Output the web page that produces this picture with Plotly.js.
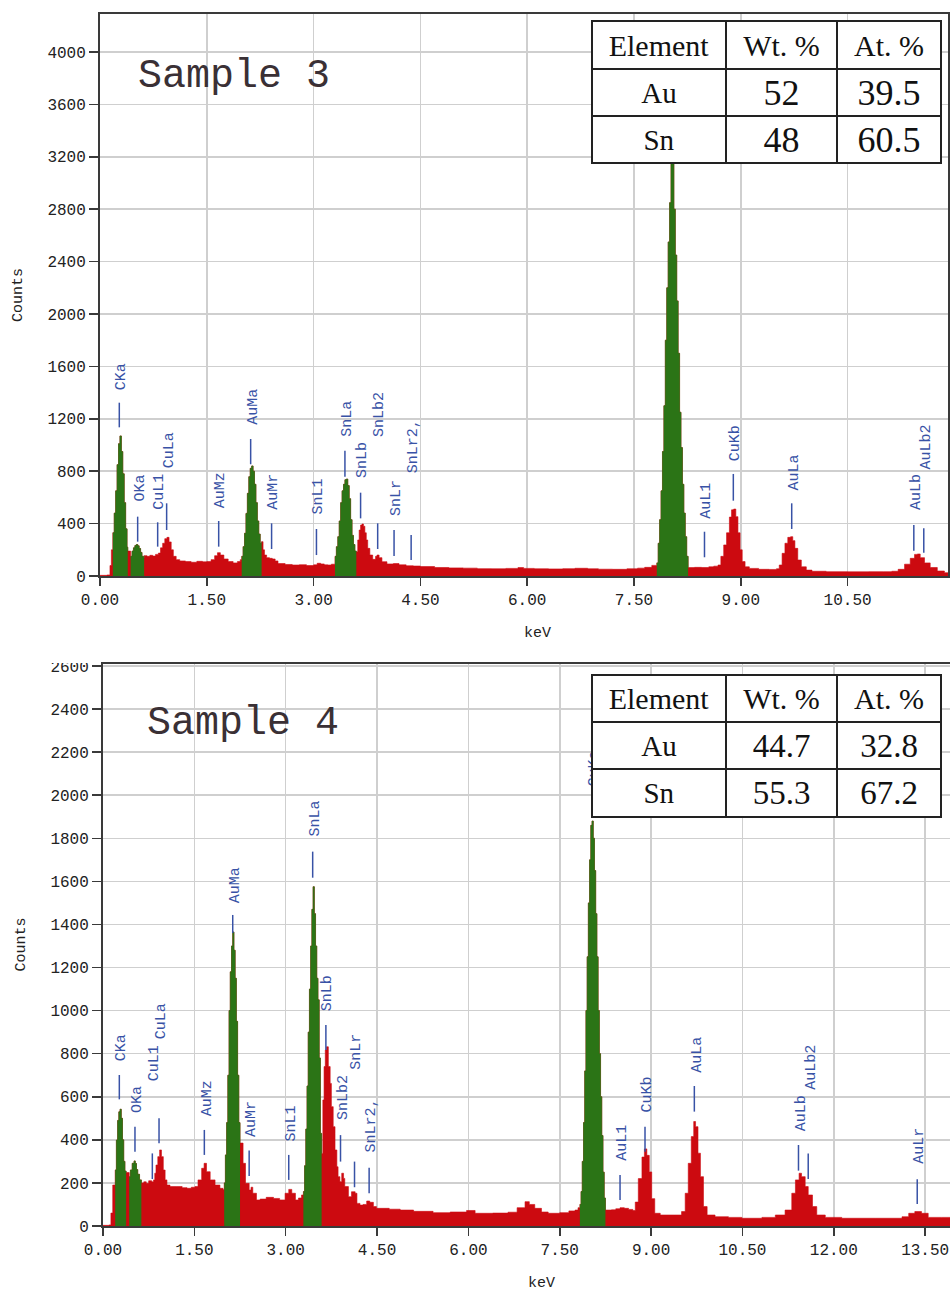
<!DOCTYPE html>
<html>
<head>
<meta charset="utf-8">
<script src="https://cdn.plot.ly/plotly-3.0.1.min.js"></script>
<style>
html,body{margin:0;padding:0;background:#fff;}
#chart{width:950px;height:1293px;}
</style>
</head>
<body>
<div id="chart"></div>
<script>
// ---------- DATA ----------
// Sample 3 spectrum: [energy keV, counts]
var sample3Spectrum = [
[0.00,5],[0.10,8],[0.14,80],[0.16,200],
[0.18,330],[0.20,480],[0.22,650],[0.24,850],[0.26,1010],[0.28,1069],[0.30,950],[0.32,780],[0.34,560],[0.36,360],[0.38,220],
[0.39,190],
[0.43,150],[0.45,190],[0.47,215],[0.49,232],[0.51,240],[0.53,230],[0.55,210],[0.57,180],[0.59,150],[0.61,140],
[0.62,155],[0.66,150],[0.70,158],[0.74,152],[0.78,165],[0.82,175],[0.85,215],[0.88,250],[0.91,285],[0.94,295],[0.97,260],[1.00,200],[1.03,150],[1.07,125],[1.12,115],[1.20,110],[1.28,105],[1.36,112],[1.44,108],[1.50,110],[1.56,125],[1.61,155],[1.65,178],[1.69,160],[1.74,130],[1.80,110],[1.87,100],[1.93,110],[1.97,125],
[1.99,150],[2.01,224],[2.03,326],[2.05,478],[2.07,631],[2.09,758],[2.11,822],[2.13,840],[2.15,800],[2.17,700],[2.19,560],[2.21,420],[2.23,320],[2.25,250],
[2.27,262],[2.29,200],[2.31,160],[2.34,140],[2.38,135],[2.42,130],[2.46,115],[2.50,95],[2.60,88],[2.70,84],[2.80,86],[2.90,80],[3.00,85],[3.05,97],[3.10,92],[3.15,85],[3.20,84],[3.25,90],
[3.30,150],[3.32,224],[3.34,300],[3.36,420],[3.38,560],[3.40,650],[3.42,700],[3.44,735],[3.46,740],[3.48,690],[3.50,590],[3.52,430],[3.54,310],[3.56,240],[3.58,190],
[3.60,186],[3.62,275],[3.64,351],[3.66,389],[3.68,397],[3.70,380],[3.72,330],[3.74,275],[3.76,211],[3.79,160],[3.83,127],[3.87,150],[3.89,160],[3.92,140],[3.96,109],[4.03,92],[4.12,95],[4.20,85],[4.30,78],[4.40,76],[4.50,72],
[4.70,65],[4.90,62],[5.10,60],[5.30,56],[5.50,55],[5.70,58],[5.87,64],[5.95,58],[6.10,55],[6.30,54],[6.50,56],[6.67,59],[6.85,55],[7.00,52],[7.20,51],[7.40,55],[7.55,60],[7.65,66],[7.75,81],
[7.82,100],[7.84,250],[7.86,430],[7.88,650],[7.90,950],[7.92,1300],[7.94,1800],[7.96,2200],[7.98,2550],[8.00,2850],[8.02,3250],[8.04,3150],[8.06,2800],[8.08,2450],[8.10,2100],[8.12,1700],[8.14,1250],[8.16,980],[8.18,700],[8.20,480],[8.22,300],[8.24,150],
[8.26,64],[8.35,66],[8.45,65],[8.55,70],[8.62,75],[8.68,84],[8.72,150],[8.76,237],[8.80,330],[8.84,450],[8.87,505],[8.90,511],[8.93,453],[8.96,330],[8.99,200],[9.02,110],[9.06,70],[9.12,58],[9.25,51],[9.40,50],[9.50,55],[9.54,84],[9.58,173],[9.62,250],[9.66,295],[9.70,300],[9.73,270],[9.76,211],[9.80,122],[9.85,70],[9.92,45],[10.00,36],[10.20,33],[10.50,32],[10.80,33],[11.00,33],[11.12,36],[11.21,51],[11.30,90],[11.38,135],[11.44,165],[11.48,168],[11.52,140],[11.58,100],[11.66,65],[11.76,38],[11.86,25],[11.92,20]
];
// energy windows of the fitted (green) peaks, Sample 3
var sample3Fitted = [[0.18,0.39],[0.43,0.62],[1.99,2.27],[3.30,3.60],[7.82,8.26]];

// Sample 4 spectrum: [energy keV, counts]
var sample4Spectrum = [
[0.00,3],[0.10,5],[0.13,60],[0.16,190],
[0.20,260],[0.22,399],[0.24,490],[0.26,530],[0.28,542],[0.30,500],[0.32,400],[0.34,300],[0.36,255],
[0.38,248],
[0.43,229],[0.45,260],[0.48,291],[0.51,302],[0.53,290],[0.55,262],[0.57,240],[0.60,214],
[0.63,200],[0.67,205],[0.71,198],[0.75,210],[0.80,205],[0.83,214],[0.85,245],[0.87,283],[0.90,322],[0.93,353],[0.96,322],[0.99,260],[1.02,214],[1.05,190],[1.10,183],[1.20,183],[1.30,178],[1.38,175],[1.45,180],[1.51,183],[1.56,214],[1.62,268],[1.66,291],[1.70,252],[1.76,214],[1.84,190],[1.92,175],[1.97,170],
[1.99,200],[2.01,330],[2.03,480],[2.05,700],[2.07,1000],[2.09,1180],[2.11,1300],[2.13,1365],[2.15,1280],[2.17,1150],[2.19,950],[2.21,700],[2.23,480],
[2.25,385],[2.30,291],[2.34,198],[2.40,167],[2.43,180],[2.46,152],[2.52,121],[2.58,125],[2.68,133],[2.80,128],[2.90,121],[2.99,152],[3.05,170],[3.10,152],[3.16,121],[3.21,130],[3.26,144],
[3.29,160],[3.31,280],[3.33,450],[3.35,650],[3.37,900],[3.39,1100],[3.41,1300],[3.43,1470],[3.45,1575],[3.47,1450],[3.49,1300],[3.51,1150],[3.53,1050],[3.55,780],[3.57,430],
[3.59,337],[3.61,585],[3.63,740],[3.65,817],[3.67,832],[3.70,740],[3.73,662],[3.75,554],[3.78,461],[3.81,353],[3.84,275],[3.86,229],[3.89,206],[3.92,245],[3.95,221],[3.97,183],[4.03,136],[4.08,159],[4.14,152],[4.17,105],[4.22,97],[4.27,100],[4.33,116],[4.38,110],[4.44,90],[4.49,82],
[4.70,78],[4.88,74],[5.10,68],[5.42,62],[5.70,65],[5.97,72],[6.11,59],[6.40,60],[6.65,64],[6.80,85],[6.93,113],[7.00,100],[7.09,82],[7.20,65],[7.31,59],[7.50,62],[7.65,70],[7.75,74],[7.80,85],
[7.83,100],[7.85,160],[7.87,300],[7.89,480],[7.91,720],[7.93,1000],[7.95,1250],[7.97,1500],[7.99,1700],[8.01,1860],[8.03,1880],[8.05,1800],[8.07,1650],[8.09,1450],[8.11,1250],[8.13,1000],[8.15,800],[8.17,600],[8.19,420],[8.21,250],[8.23,130],
[8.25,74],[8.35,75],[8.42,80],[8.49,85],[8.56,82],[8.63,77],[8.70,72],[8.74,111],[8.79,220],[8.85,320],[8.89,358],[8.93,328],[8.97,251],[9.01,127],[9.06,59],[9.15,51],[9.39,51],[9.50,67],[9.56,152],[9.61,291],[9.66,415],[9.70,485],[9.73,461],[9.77,338],[9.81,229],[9.86,90],[9.92,51],[10.05,43],[10.27,40],[10.49,36],[10.82,40],[11.04,51],[11.20,74],[11.31,152],[11.37,214],[11.43,245],[11.47,229],[11.53,183],[11.58,144],[11.65,90],[11.72,51],[11.86,40],[12.13,36],[12.68,36],[13.12,43],[13.23,59],[13.33,67],[13.44,59],[13.55,40],[13.77,40],[13.91,40]
];
var sample4Fitted = [[0.20,0.38],[0.43,0.63],[1.99,2.25],[3.29,3.59],[7.83,8.25]];

// Peak identification labels
var lines3Name   = ['CKa','OKa','CuL1','CuLa','AuMz','AuMa','AuMr','SnL1','SnLa','SnLb','SnLb2','SnLr','SnLr2,','CuKa','AuL1','CuKb','AuLa','AuLb','AuLb2'];
var lines3Energy = [0.271,0.529,0.81,0.936,1.667,2.116,2.41,3.04,3.44,3.66,3.90,4.13,4.37,8.03,8.49,8.895,9.715,11.43,11.57];
var lines3Low    = [1135,262,224,351,224,853,206,160,758,440,206,153,122,3300,143,575,359,193,178];
var lines3High   = [1323,453,410,555,420,1046,402,359,957,636,402,351,313,3500,338,779,555,389,364];
var lines3Text   = [1405,550,491,809,504,1140,491,453,1051,733,1043,440,766,3580,422,860,639,491,796];

var lines4Name   = ['CKa','OKa','CuL1','CuLa','AuMz','AuMa','AuMr','SnL1','SnLa','SnLb','SnLb2','SnLr','SnLr2,','CuKa','AuL1','CuKb','AuLa','AuLb','AuLb2','AuLr'];
var lines4Energy = [0.268,0.525,0.81,0.92,1.664,2.13,2.40,3.05,3.443,3.66,3.90,4.13,4.37,8.03,8.49,8.90,9.71,11.42,11.58,13.37];
var lines4Low    = [588,345,218,384,330,1360,232,214,1617,817,299,180,152,1960,121,345,531,257,218,102];
var lines4High   = [701,461,337,500,446,1444,350,330,1738,933,422,299,271,2000,237,461,650,376,337,217];
var lines4Text   = [757,515,662,856,500,1490,402,384,1800,989,480,716,330,2029,291,515,701,430,624,279];

// Composition tables
var tableHeader = ['Element','Wt. %','At. %'];
var tableElements = ['Au','Sn'];
var sample3Wt = ['52','48'];
var sample3At = ['39.5','60.5'];
var sample4Wt = ['44.7','55.3'];
var sample4At = ['32.8','67.2'];

// Axis ticks
var xTicks3 = [0,1.5,3,4.5,6,7.5,9,10.5];
var yTicks3 = [0,400,800,1200,1600,2000,2400,2800,3200,3600,4000];
var xTicks4 = [0,1.5,3,4.5,6,7.5,9,10.5,12,13.5];
var yTicks4 = [0,200,400,600,800,1000,1200,1400,1600,1800,2000,2200,2400,2600];

// ---------- STYLE ----------
var W = 950, H = 1293;
var RED = '#cc0a10', GREEN = '#2b7416', BLUE = '#3852a6';
var MONO = '"Liberation Mono", "DejaVu Sans Mono", monospace';
var SERIF = '"Liberation Serif", "Times New Roman", serif';
function px(X){return X/W;}
function py(Y){return 1 - Y/H;}

var traces = [];
function addSpectrum(spec, fitted, xa, ya){
  var ex = spec.map(function(p){return p[0];});
  var cy = spec.map(function(p){return p[1];});
  traces.push({type:'scatter', mode:'lines', x:ex, y:cy, xaxis:xa, yaxis:ya,
    line:{shape:'hv', color:RED, width:0.6}, fill:'tozeroy', fillcolor:RED, hoverinfo:'skip'});
  fitted.forEach(function(r){
    var gx=[], gy=[];
    spec.forEach(function(p){ if(p[0] >= r[0]-1e-9 && p[0] <= r[1]+1e-9){gx.push(p[0]); gy.push(p[1]);} });
    traces.push({type:'scatter', mode:'lines', x:gx, y:gy, xaxis:xa, yaxis:ya,
      line:{shape:'hv', color:GREEN, width:0.6}, fill:'tozeroy', fillcolor:GREEN, hoverinfo:'skip'});
  });
}
addSpectrum(sample3Spectrum, sample3Fitted, 'x', 'y');
addSpectrum(sample4Spectrum, sample4Fitted, 'x2', 'y2');

var shapes = [], annotations = [];
function addLabels(names, en, lo, hi, tx, xr, yr){
  for (var i=0;i<names.length;i++){
    shapes.push({type:'line', xref:xr, yref:yr, x0:en[i], x1:en[i], y0:lo[i], y1:hi[i],
      line:{color:BLUE, width:1.5}, layer:'above'});
    annotations.push({xref:xr, yref:yr, x:en[i], y:tx[i], text:names[i], showarrow:false,
      textangle:-90, xanchor:'center', yanchor:'bottom', xshift:2.5,
      font:{family:MONO, size:15, color:BLUE}});
  }
}
addLabels(lines3Name, lines3Energy, lines3Low, lines3High, lines3Text, 'x', 'y');
addLabels(lines4Name, lines4Energy, lines4Low, lines4High, lines4Text, 'x2', 'y2');

// the top of the "2600" label is cut off in the reference image
shapes.push({type:'rect', xref:'paper', yref:'paper', x0:px(35), x1:px(97), y0:py(663), y1:py(645),
  fillcolor:'#ffffff', line:{width:0}, layer:'above'});

// Titles inside plots
annotations.push({xref:'paper', yref:'paper', x:px(234), y:py(76), text:'Sample 3', showarrow:false,
  xanchor:'center', yanchor:'middle', font:{family:MONO, size:40, color:'#3a3035'}});
annotations.push({xref:'paper', yref:'paper', x:px(243), y:py(723), text:'Sample 4', showarrow:false,
  xanchor:'center', yanchor:'middle', font:{family:MONO, size:40, color:'#3a3035'}});

// Axis titles
[[19,295],[21.5,945]].forEach(function(p){
  annotations.push({xref:'paper', yref:'paper', x:px(p[0]), y:py(p[1]), text:'Counts', showarrow:false,
    textangle:-90, xanchor:'center', yanchor:'middle', font:{family:MONO, size:15, color:'#222'}});
});
[[537,633],[541,1283]].forEach(function(p){
  annotations.push({xref:'paper', yref:'paper', x:px(p[0]), y:py(p[1]), text:'keV', showarrow:false,
    xanchor:'center', yanchor:'middle', font:{family:MONO, size:15, color:'#222'}});
});

// Tables as bordered cells
function addTable(rowsY, wt, at, numSize){
  var colX = [592, 726, 837, 941];
  var rows = [tableHeader, [tableElements[0], wt[0], at[0]], [tableElements[1], wt[1], at[1]]];
  var bw = 2;
  for (var r=0;r<3;r++){
    for (var c=0;c<3;c++){
      var x0 = colX[c], x1 = colX[c+1], y0 = rowsY[r], y1 = rowsY[r+1];
      var size = (r===0) ? 30 : (c===0 ? 29 : numSize);
      annotations.push({xref:'paper', yref:'paper', x:px((x0+x1)/2), y:py((y0+y1)/2),
        xanchor:'center', yanchor:'middle', showarrow:false, text:rows[r][c],
        width:(x1-x0)-bw, height:(y1-y0)-bw, borderpad:0, borderwidth:bw,
        bordercolor:'#222', bgcolor:'#ffffff', align:'center', valign:'middle',
        font:{family:SERIF, size:size, color:'#111'}});
    }
  }
}
addTable([21,69,116,163], sample3Wt, sample3At, 36);
addTable([675,722,769,817], sample4Wt, sample4At, 33);

var axisCommon = {
  showline:true, linecolor:'#3a3a3a', linewidth:2, ticks:'outside', tickcolor:'#3a3a3a',
  tickwidth:1.5, showgrid:true, gridcolor:'#cfcfcf', gridwidth:1.5, zeroline:false,
  tickfont:{family:MONO, size:16, color:'#222'}, fixedrange:true
};
function ax(extra){ var o = {}; for (var k in axisCommon) o[k]=axisCommon[k]; for (var k2 in extra) o[k2]=extra[k2]; return o; }

var layout = {
  width:W, height:H, margin:{l:0,r:0,t:0,b:0}, paper_bgcolor:'#fff', plot_bgcolor:'#fff',
  showlegend:false, hovermode:false,
  xaxis: ax({domain:[px(100), px(948)], range:[0, 848/71.2], anchor:'y', tickvals:xTicks3, tickformat:'.2f', ticklen:8, mirror:true}),
  yaxis: ax({domain:[py(576), py(14)], range:[0, 562/0.131], anchor:'x', tickvals:yTicks3, ticklen:9, mirror:true}),
  xaxis2: ax({domain:[px(103), 1], range:[0, 847/60.9], anchor:'y2', tickvals:xTicks4, tickformat:'.2f', ticklen:8, mirror:true}),
  yaxis2: ax({domain:[py(1226), py(664)], range:[0, 562/0.2154], anchor:'x2', tickvals:yTicks4, ticklen:9, mirror:false}),
  shapes:shapes, annotations:annotations
};

Plotly.newPlot('chart', traces, layout, {staticPlot:true, displayModeBar:false});
</script>
</body>
</html>
